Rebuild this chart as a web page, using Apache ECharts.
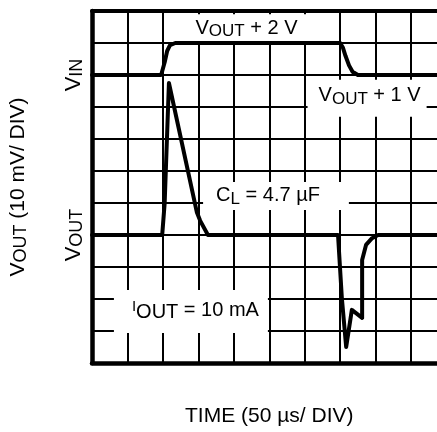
<!DOCTYPE html>
<html>
<head>
<meta charset="utf-8">
<script src="https://cdn.jsdelivr.net/npm/echarts@6/dist/echarts.min.js"></script>
<style>
    html, body { margin: 0; padding: 0; background: #fff; }
    #chart { width: 437px; height: 432px; }
</style>
</head>
<body>
<div id="chart"></div>
<script>
// x: time in divisions (50 µs / div), y: screen divisions (10 mV / div)
var levelTicks = [9, 4];
var levelNames = ['{v|V}{s|IN}', '{v|V}{s|OUT}'];

var vinTrace = [
    [0, 9], [1.95, 9], [2.05, 9.4], [2.12, 9.75], [2.2, 9.93], [2.35, 10],
    [7.0, 10], [7.08, 9.85], [7.15, 9.6], [7.25, 9.3], [7.35, 9.1], [7.5, 9], [10, 9]
];

var voutTrace = [
    [0, 4], [1.98, 4], [2.05, 5.0], [2.17, 8.75], [2.96, 4.7], [3.05, 4.45], [3.27, 4],
    [6.94, 4], [7.05, 2.0], [7.17, 0.5], [7.33, 1.66], [7.62, 1.41], [7.62, 3.22],
    [7.73, 3.69], [7.9, 3.9], [8.07, 4], [10, 4]
];

var noteText = [
    '{v|V}{s|OUT}{t| + 2 V}',
    '{v|V}{s|OUT}{t| + 1 V}',
    '{v|C}{s|L}{t| = 4.7 µF}',
    '{i|I}{o|OUT}{t| = 10 mA}'
];
var noteAt = [[4.43, 10.48], [7.76, 8.27], [5.19, 5.22], [2.79, 1.61]];

(function() {
    'use strict';

    var FONT = '"Liberation Sans", Arial, sans-serif';
    var rich = {
        v: { fontSize: 20, lineHeight: 24, verticalAlign: 'middle', fontFamily: FONT, color: '#000' },
        s: { fontSize: 17, lineHeight: 18, verticalAlign: 'bottom', fontFamily: FONT, color: '#000' },
        t: { fontSize: 20, lineHeight: 24, verticalAlign: 'middle', fontFamily: FONT, color: '#000' },
        i: { fontSize: 15, lineHeight: 16, verticalAlign: 'top', fontFamily: FONT, color: '#000' },
        o: { fontSize: 20, lineHeight: 20, verticalAlign: 'bottom', fontFamily: FONT, color: '#000' }
    };
    var notePad = [[2, 35, 1, 30], [4, 6, 9, 11], [2, 29, 2, 13], [9, 9, 10, 18]];

    var chart = echarts.init(document.getElementById('chart'));

    var trace = function(data) {
        return {
            type: 'line',
            data: data,
            symbol: 'none',
            smooth: false,
            silent: true,
            lineStyle: { color: '#000', width: 4, join: 'round', cap: 'round' },
            z: 3
        };
    };

    var notes = noteAt.map(function(p, i) {
        return {
            value: p,
            label: {
                formatter: noteText[i],
                padding: notePad[i]
            }
        };
    });

    chart.setOption({
        animation: false,
        backgroundColor: '#fff',
        grid: {
            left: 92, top: 11, width: 354.5, height: 352,
            containLabel: false,
            outerBoundsMode: 'none'
        },
        xAxis: [{
            type: 'value',
            min: 0, max: 10, interval: 1,
            axisLine: { show: true, lineStyle: { color: '#000', width: 4.5 } },
            axisTick: { show: false },
            axisLabel: { show: false },
            splitLine: { show: true, lineStyle: { color: '#000', width: 2 } },
            name: 'TIME (50 µs/ DIV)',
            nameLocation: 'middle',
            nameGap: 43,
            nameTextStyle: { fontFamily: FONT, fontSize: 21, color: '#000' }
        }, {
            type: 'value',
            position: 'top',
            min: 0, max: 10, interval: 1,
            axisLine: { show: true, lineStyle: { color: '#000', width: 4 } },
            axisTick: { show: false },
            axisLabel: { show: false },
            splitLine: { show: false }
        }],
        yAxis: {
            type: 'value',
            min: 0, max: 11, interval: 1,
            axisLine: { show: true, lineStyle: { color: '#000', width: 4.5 } },
            axisTick: { show: false },
            axisLabel: {
                rotate: 90,
                margin: 6,
                formatter: function(v) {
                    var k = levelTicks.indexOf(v);
                    return k < 0 ? '' : levelNames[k];
                },
                rich: {
                    v: { fontSize: 22, lineHeight: 24, verticalAlign: 'middle', fontFamily: FONT, color: '#000' },
                    s: { fontSize: 18, lineHeight: 19, verticalAlign: 'bottom', fontFamily: FONT, color: '#000' }
                }
            },
            splitLine: { show: true, lineStyle: { color: '#000', width: 2 } },
            name: '{v|V}{s|OUT}{t| (10 mV/ DIV)}',
            nameLocation: 'middle',
            nameRotate: 90,
            nameGap: 62,
            nameTextStyle: {
                rich: {
                    v: { fontSize: 21, lineHeight: 24, verticalAlign: 'middle', fontFamily: FONT, color: '#000' },
                    s: { fontSize: 18, lineHeight: 19, verticalAlign: 'bottom', fontFamily: FONT, color: '#000' },
                    t: { fontSize: 21, lineHeight: 24, verticalAlign: 'middle', fontFamily: FONT, color: '#000' }
                }
            }
        },
        series: [
            trace(vinTrace),
            trace(voutTrace),
            {
                type: 'scatter',
                data: notes,
                symbolSize: 0,
                silent: true,
                clip: false,
                z: 2,
                itemStyle: { color: 'transparent', opacity: 1 },
                label: {
                    show: true,
                    position: 'inside',
                    opacity: 1,
                    backgroundColor: '#fff',
                    rich: rich
                }
            }
        ]
    });
})();
</script>
</body>
</html>
